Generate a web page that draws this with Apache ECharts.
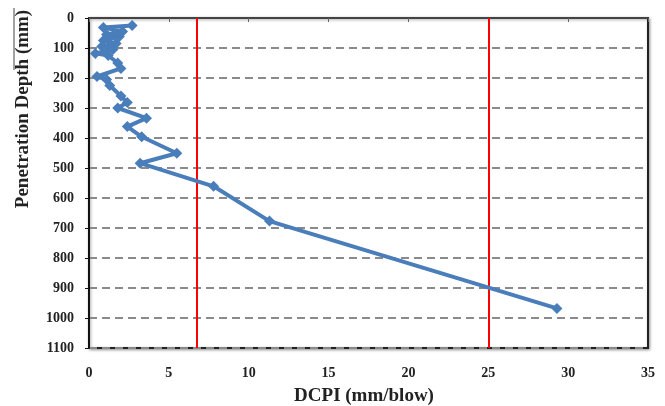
<!DOCTYPE html>
<html>
<head>
<meta charset="utf-8">
<script src="https://cdn.jsdelivr.net/npm/echarts@6/dist/echarts.min.js"></script>
<style>html,body{margin:0;padding:0;background:#fff}#c{width:665px;height:406px}</style>
</head>
<body>
<div id="c"></div>
<script>
// DCPI (mm/blow) and penetration depth (mm)
const dcpi  = [2.7, 0.9, 2.1, 1.1, 1.9, 0.9, 1.7, 0.8, 1.5, 0.4, 1.2, 1.8, 2.0, 0.5, 1.1, 1.3, 2.0, 2.4, 1.8, 3.6, 2.4, 3.3, 5.5, 3.2, 7.8, 11.3, 29.3];
const depth = [25, 32, 45, 55, 62, 75, 85, 95, 105, 118, 125, 150, 168, 195, 205, 225, 260, 282, 300, 334, 362, 396, 451, 484, 561, 677, 968];
const limitLines = [6.75, 25];
const xTicks = [0, 5, 10, 15, 20, 25, 30, 35];
const yTicks = [0, 100, 200, 300, 400, 500, 600, 700, 800, 900, 1000, 1100];
const xTitle = 'DCPI (mm/blow)';
const yTitle = 'Penetration Depth (mm)';

const font = "'Liberation Serif', 'Times New Roman', serif";
const chart = echarts.init(document.getElementById('c'), null, {renderer: 'canvas'});
const points = dcpi.map((v, i) => [v, depth[i]]);

chart.setOption({
  animation: false,
  backgroundColor: '#fff',
  grid: {left: 89, right: 17, top: 18, bottom: 58, show: true, borderColor: '#222', borderWidth: 2,
         shadowColor: 'rgba(0,0,0,0.35)', shadowBlur: 3, shadowOffsetX: 1, shadowOffsetY: 1, backgroundColor: '#fff'},
  xAxis: [{
    type: 'value', position: 'bottom', min: xTicks[0], max: xTicks[xTicks.length - 1], interval: 5,
    axisLine: {show: true, lineStyle: {color: '#000', width: 2}},
    axisTick: {show: false},
    splitLine: {show: false},
    axisLabel: {margin: 18, fontFamily: font, fontWeight: 'bold', fontSize: 14, color: '#222',
                formatter: v => String(v)}
  }, {
    type: 'value', position: 'top', min: xTicks[0], max: xTicks[xTicks.length - 1], interval: 5,
    axisLine: {show: true, lineStyle: {color: '#444', width: 2}},
    axisTick: {show: true, inside: true, length: 4, lineStyle: {color: '#666'}},
    splitLine: {show: false},
    axisLabel: {show: false}
  }],
  yAxis: {
    type: 'value', inverse: true, min: yTicks[0], max: yTicks[yTicks.length - 1], interval: 100,
    axisLine: {show: true, lineStyle: {color: '#111', width: 2}},
    axisTick: {show: true, length: 4, lineStyle: {color: '#111'}},
    splitLine: {show: true, lineStyle: {color: '#8a8a8a', width: 2, type: [8, 5]}},
    axisLabel: {margin: 15, fontFamily: font, fontWeight: 'bold', fontSize: 14, color: '#222',
                formatter: v => String(v)}
  },
  graphic: [
    {type: 'text', x: 364, y: 396, z: 10,
     style: {text: xTitle, font: "bold 19px " + font, fill: '#222', align: 'center', verticalAlign: 'middle'}},
    {type: 'text', rotation: Math.PI / 2, x: 23, y: 109, z: 10,
     style: {text: yTitle, font: "bold 19px " + font, fill: '#222', align: 'center', verticalAlign: 'middle'}},
    {type: 'line', shape: {x1: 14, y1: 8, x2: 14, y2: 70}, style: {stroke: '#444', lineWidth: 1}}
  ],
  series: [{
    type: 'line', xAxisIndex: 0, data: points,
    symbol: 'diamond', symbolSize: 11,
    lineStyle: {color: '#4a7ebb', width: 4},
    itemStyle: {color: '#4a7ebb'},
    z: 5,
    markLine: {
      silent: true, symbol: 'none', label: {show: false},
      lineStyle: {color: '#ff0000', width: 2, type: 'solid'},
      data: limitLines.map(v => ({xAxis: v}))
    }
  }]
});
</script>
</body>
</html>
